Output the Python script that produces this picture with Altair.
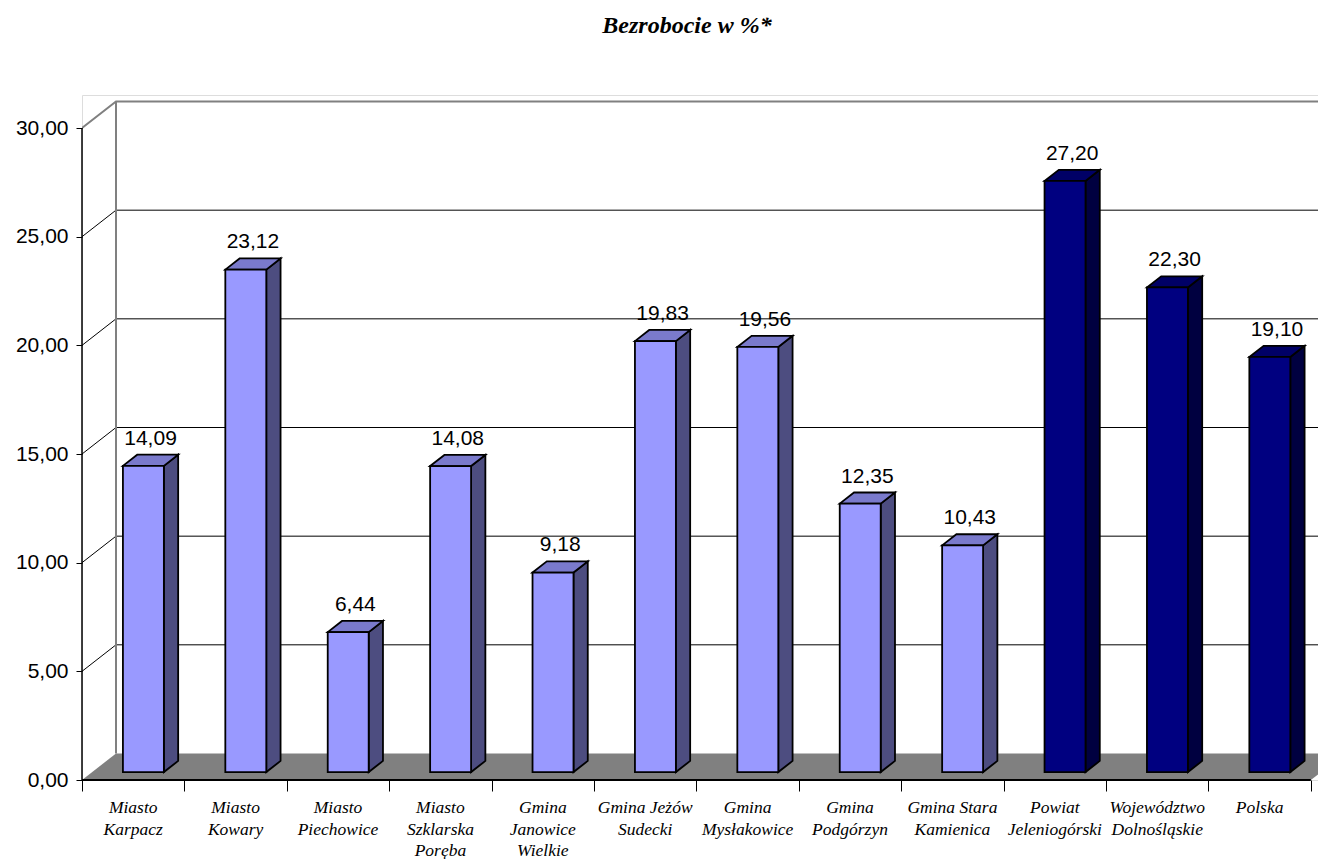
import altair as alt
import pandas as pd

# ---------------- data ----------------
TITLE = "Bezrobocie w %*"
CATEGORIES = [
    "Miasto\nKarpacz",
    "Miasto\nKowary",
    "Miasto\nPiechowice",
    "Miasto\nSzklarska\nPoręba",
    "Gmina\nJanowice\nWielkie",
    "Gmina Jeżów\nSudecki",
    "Gmina\nMysłakowice",
    "Gmina\nPodgórzyn",
    "Gmina Stara\nKamienica",
    "Powiat\nJeleniogórski",
    "Województwo\nDolnośląskie",
    "Polska",
]
VALUES = [14.09, 23.12, 6.44, 14.08, 9.18, 19.83, 19.56, 12.35, 10.43, 27.20, 22.30, 19.10]
GROUPS = ["local"] * 9 + ["regional"] * 3
Y_TICKS = [0, 5, 10, 15, 20, 25, 30]

# ---------------- style ----------------
FRONT = {"local": "#9999FF", "regional": "#000080"}
SIDE = {"local": "#4D4D80", "regional": "#000040"}
TOP = {"local": "#7A7ACC", "regional": "#000066"}

W, H = 1236, 685
X_MAX, Y_MAX = 12.07, 31.52
WDX, WDY = 0.332, 1.22      # wall depth in data units
F0, F1 = 0.30, 0.72         # bar depth span (fraction of wall depth)
BAR_W = 0.40
N = len(VALUES)
Y_TOP = Y_TICKS[-1]

XS = alt.Scale(domain=[0, X_MAX], nice=False, zero=False)
YS = alt.Scale(domain=[0, Y_MAX], nice=False, zero=False)
AX_X = alt.Axis(values=list(range(N + 1)), labels=False, ticks=True, tickSize=11,
                tickColor="black", tickWidth=1, domain=False, grid=False, title=None)
AX_Y = alt.Axis(values=Y_TICKS, labelExpr="replace(format(datum.value, '.2f'), '.', ',')",
                labelFont="Liberation Sans", labelFontSize=21, labelColor="black",
                labelPadding=8, tickColor="black", tickSize=6, tickWidth=1,
                domain=False, grid=False, title=None)


def xq(f="x"):
    return alt.X(f"{f}:Q", scale=XS, axis=AX_X)


def yq(f="y"):
    return alt.Y(f"{f}:Q", scale=YS, axis=AX_Y, stack=None)


# ---------------- derived tables ----------------
b = F0 * WDY
dbx, dby = (F1 - F0) * WDX, (F1 - F0) * WDY
front_rows, side_rows, top_rows, lab_rows = [], [], [], []
for i, (v, g) in enumerate(zip(VALUES, GROUPS)):
    xl = i + 0.5 - BAR_W / 2 + F0 * WDX
    xr = xl + BAR_W
    t = b + v
    front_rows.append(dict(x=xl, x2=xr, y=b, y2=t, fill=FRONT[g]))
    side_rows += [dict(bar=i, x=xr, y=t, y2=b, fill=SIDE[g]),
                  dict(bar=i, x=xr + dbx, y=t + dby, y2=b + dby, fill=SIDE[g])]
    top_rows += [dict(bar=i, x=xl, y=t, y2=t, fill=TOP[g]),
                 dict(bar=i, x=xl + dbx, y=t + dby, y2=t, fill=TOP[g]),
                 dict(bar=i, x=xr, y=t + dby, y2=t, fill=TOP[g]),
                 dict(bar=i, x=xr + dbx, y=t + dby, y2=t + dby, fill=TOP[g])]
    lab_rows.append(dict(x=i + 0.5 + (F0 + F1) / 2 * WDX, y=t + dby, value=v))

front_df = pd.DataFrame(front_rows)
side_df = pd.DataFrame(side_rows)
top_df = pd.DataFrame(top_rows)
lab_df = pd.DataFrame(lab_rows)

x_end = N + WDX + 0.5
grid_rows = []
for v in Y_TICKS[1:-1]:
    grid_rows += [dict(line=v, k=0, x=0, y=v), dict(line=v, k=1, x=WDX, y=v + WDY),
                  dict(line=v, k=2, x=x_end, y=v + WDY)]
grid_df = pd.DataFrame(grid_rows)
edge_df = pd.DataFrame([
    dict(line="top", k=0, x=0, y=Y_TOP), dict(line="top", k=1, x=WDX, y=Y_TOP + WDY),
    dict(line="top", k=2, x=x_end, y=Y_TOP + WDY),
    dict(line="wall", k=0, x=WDX, y=WDY), dict(line="wall", k=1, x=WDX, y=Y_TOP + WDY),
])
floor_df = pd.DataFrame([
    dict(x=0, y=0, y2=0), dict(x=WDX, y=WDY, y2=0),
    dict(x=N, y=WDY, y2=0), dict(x=N + WDX, y=WDY, y2=WDY),
])
cat_df = pd.DataFrame(dict(x=[i + 0.5 for i in range(N)], label=CATEGORIES))
title_df = pd.DataFrame(dict(t=[TITLE]))

# ---------------- layers ----------------
grid = alt.Chart(grid_df).mark_line(color="black", strokeWidth=1, clip=True).encode(
    x=xq(), y=yq(), detail="line:N", order="k:Q")
edges = alt.Chart(edge_df).mark_line(color="#808080", strokeWidth=2, clip=True).encode(
    x=xq(), y=yq(), detail="line:N", order="k:Q")
floor = alt.Chart(floor_df).mark_area(color="#808080", clip=True, interpolate="linear").encode(
    x=xq(), y=yq(), y2=alt.Y2("y2:Q"))
front_axis = alt.Chart(pd.DataFrame(dict(x=[0], y=[0], y2=[Y_TOP]))).mark_rule(
    color="black", strokeWidth=1.5).encode(x=xq(), y=yq(), y2=alt.Y2("y2:Q"))
base_line = alt.Chart(pd.DataFrame(dict(x=[0], x2=[N], y=[0]))).mark_rule(
    color="black", strokeWidth=2).encode(x=xq(), x2=alt.X2("x2:Q"), y=yq())
side = alt.Chart(side_df).mark_area(stroke="black", strokeWidth=1.8, strokeJoin="miter").encode(
    x=xq(), y=yq(), y2=alt.Y2("y2:Q"), detail="bar:N",
    fill=alt.Fill("fill:N", scale=None))
top = alt.Chart(top_df).mark_area(stroke="black", strokeWidth=1.8, strokeJoin="miter").encode(
    x=xq(), y=yq(), y2=alt.Y2("y2:Q"), detail="bar:N",
    fill=alt.Fill("fill:N", scale=None))
front = alt.Chart(front_df).mark_rect(stroke="black", strokeWidth=1.8).encode(
    x=xq(), x2=alt.X2("x2:Q"), y=yq(), y2=alt.Y2("y2:Q"),
    fill=alt.Fill("fill:N", scale=None))
labels = alt.Chart(lab_df).transform_calculate(
    lab="replace(format(datum.value, '.2f'), '.', ',')"
).mark_text(font="Liberation Sans", fontSize=21, color="black", baseline="alphabetic",
            align="center", dy=-10).encode(x=xq(), y=yq(), text="lab:N")
cats = alt.Chart(cat_df).mark_text(font="Liberation Serif", fontStyle="italic", fontSize=17.5,
                                   color="black", baseline="top", align="center",
                                   lineBreak="\n", lineHeight=21.5, dy=19).encode(
    x=xq(), y=alt.value(H), text="label:N")
title = alt.Chart(title_df).mark_text(font="Liberation Serif", fontStyle="italic",
                                      fontWeight="bold", fontSize=24, color="black",
                                      align="center", baseline="alphabetic").encode(
    x=alt.value(605), y=alt.value(-62), text="t:N")

chart = alt.layer(grid, edges, floor, front_axis, side, top, front, base_line, labels, cats, title
                  ).properties(
    width=W, height=H,
    autosize=alt.AutoSizeParams(type="none"),
    padding={"left": 74, "top": 87, "right": 0, "bottom": 92},
).configure_view(stroke=None).configure(background="white")

chart.save("out.html", embed_options={"renderer": "svg", "actions": False})
